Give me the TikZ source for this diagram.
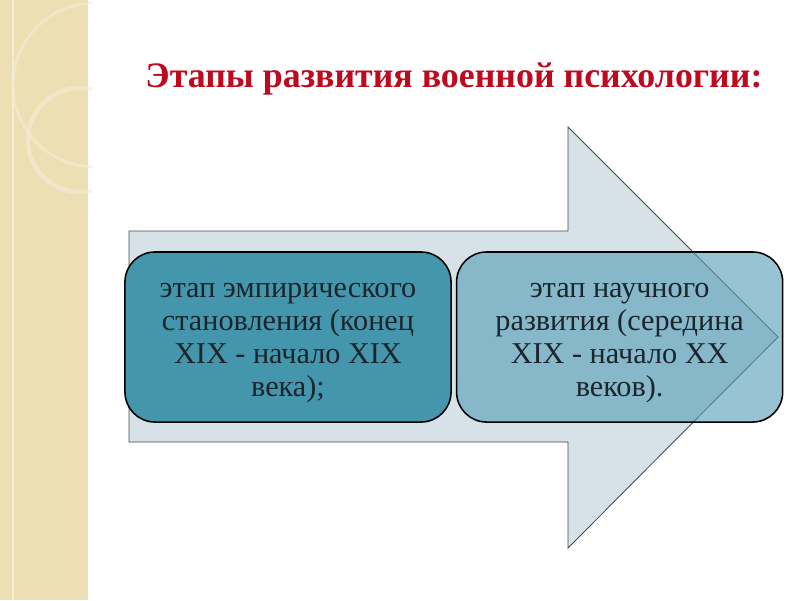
\documentclass[tikz,border=0pt]{standalone}
\usepackage{fontspec}
\setmainfont{Liberation Serif}
\usetikzlibrary{shapes,positioning}

\begin{document}
\begin{tikzpicture}[x=0.025cm,y=-0.025cm]
\definecolor{stripcolor}{RGB}{237,223,180} % Definition of the side strip color
\definecolor{ringcolor}{RGB}{245,236,212} % Definition of the ring color
\definecolor{arrowfill}{RGB}{214,226,232} % Definition of the arrow fill color
\definecolor{arrowline}{RGB}{70,75,80} % Definition of the arrow line color
\definecolor{firstfill}{RGB}{68,150,172} % Definition of the first stage color
\definecolor{secondfill}{RGB}{82,156,182} % Definition of the second stage color
\definecolor{titlecolor}{RGB}{190,10,30} % Definition of the title color
\definecolor{textcolor}{RGB}{28,36,44} % Definition of the text color
\tikzset{stagebox/.style={draw=black,line width=1.1pt,rounded corners=0.75cm,minimum width=8.15cm,minimum height=4.25cm,align=center,text=textcolor,font=\rmfamily\fontsize{21.5}{23.5}\selectfont}}
\useasboundingbox (0,0) rectangle (800,600); % Fix the page to 800 x 600
\fill[white] (0,0) rectangle (800,600);
\fill[stripcolor] (0,0) rectangle (88,600); % Draw the side strip
\draw[ringcolor,line width=0.8pt] (13,0) -- (13,600); % Draw the thin line of the strip
\begin{scope}
\clip (0,0) rectangle (92,200);
\draw[ringcolor,line width=2pt,opacity=0.6] (95,85) circle (82); % Draw the big ring
\draw[ringcolor,line width=3pt,opacity=0.6] (80,140) circle (52); % Draw the small ring
\end{scope}
\draw[draw=arrowline,fill=arrowfill,line width=0.6pt] (129,231) -- (568,231) -- (568,127) -- (778,337) -- (568,548) -- (568,442) -- (129,442) -- cycle; % Draw the big arrow
\node[stagebox,fill=firstfill] (empirical) at (288,337) {\rule{0pt}{18.5pt}этап эмпирического\\становления (конец\\XIX - начало XIX\\века);};
\node[stagebox,fill=secondfill,fill opacity=0.6,text opacity=1,right=0.1cm of empirical] (scientific) {\rule{0pt}{18.5pt}этап научного\\развития (середина\\XIX - начало XX\\веков).};
\node[anchor=base,text=titlecolor,font=\fontsize{25.5}{29}\selectfont\bfseries] (title) at (454,87) {Этапы развития военной психологии:};
\end{tikzpicture}
\end{document}
